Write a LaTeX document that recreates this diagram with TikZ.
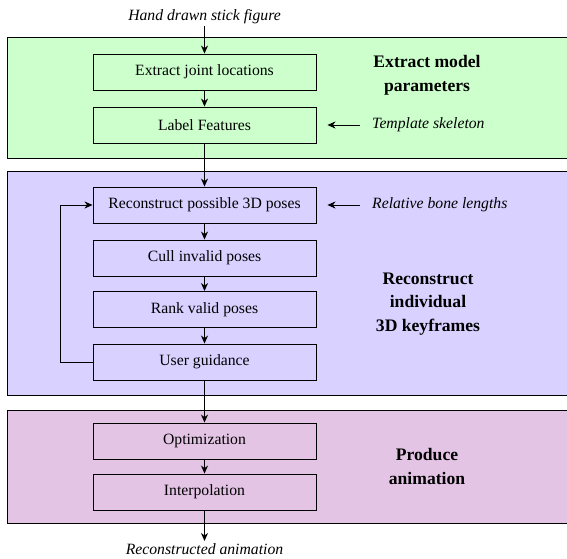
\documentclass[tikz,border=0pt]{standalone}
\usepackage{fontspec}
\setmainfont{Liberation Serif}
\usetikzlibrary{arrows.meta}
\definecolor{extractbg}{RGB}{204,255,204}
\definecolor{posebg}{RGB}{217,209,255}
\definecolor{animbg}{RGB}{228,196,228}

\begin{document}
\begin{tikzpicture}[x=1pt,y=-1pt,
  stepbox/.style={draw,line width=0.9pt,minimum width=223pt,minimum height=36pt,
    inner sep=0pt,font=\fontsize{15.7}{19}\selectfont},
  stagetitle/.style={align=center,font=\fontsize{17.6}{23.5}\selectfont\bfseries},
  aside/.style={font=\fontsize{15.7}{19}\selectfont\itshape,inner sep=2pt},
  flow/.style={-{Stealth[length=8pt,width=7pt,inset=2.5pt]},line width=1pt}]
  \useasboundingbox (0,0) rectangle (567,558);
  % the three stages
  \draw[fill=extractbg,line width=0.9pt] (7,37) rectangle (580,158);
  \draw[fill=posebg,line width=0.9pt] (7,171) rectangle (580,395);
  \draw[fill=animbg,line width=0.9pt] (7,410) rectangle (580,523);
  \node[stagetitle] (tA) at (427,75.5) {Extract model\\parameters};
  \node[stagetitle] (tB) at (428,304) {Reconstruct\\individual\\3D keyframes};
  \node[stagetitle] (tC) at (427,466.5) {Produce\\animation};
  % the steps
  \node[stepbox] (joints) at (204.5,72) {Extract joint locations};
  \node[stepbox] (feat) at (204.5,125) {Label Features};
  \node[stepbox] (recon) at (204.5,205) {Reconstruct possible 3D poses};
  \node[stepbox] (cull) at (204.5,258) {Cull invalid poses};
  \node[stepbox] (rank) at (204.5,309.5) {Rank valid poses};
  \node[stepbox] (user) at (204.5,362) {User guidance};
  \node[stepbox] (opt) at (204.5,441) {Optimization};
  \node[stepbox] (interp) at (204.5,492) {Interpolation};
  % input, output and side inputs
  \node[aside,anchor=south] (sketch) at (204.5,26) {Hand drawn stick figure};
  \node[aside,anchor=north] (result) at (204.5,541) {Reconstructed animation};
  \node[aside,anchor=west] (tmpl) at (370,125) {Template skeleton};
  \node[aside,anchor=west] (bones) at (370,205) {Relative bone lengths};
  % the flow
  \draw[flow] (sketch) -- (joints);
  \draw[flow] (joints) -- (feat);
  \draw[flow] (feat) -- (recon);
  \draw[flow] (recon) -- (cull);
  \draw[flow] (cull) -- (rank);
  \draw[flow] (rank) -- (user);
  \draw[flow] (user) -- (opt);
  \draw[flow] (opt) -- (interp);
  \draw[flow] (interp) -- (result);
  \draw[flow,shorten <=10pt,shorten >=11pt] (tmpl.west) -- (feat.east);
  \draw[flow,shorten <=10pt,shorten >=11pt] (bones.west) -- (recon.east);
  % retry loop
  \draw[flow] (user.west) -- ++(-32,0) |- (recon.west);
\end{tikzpicture}
\end{document}
